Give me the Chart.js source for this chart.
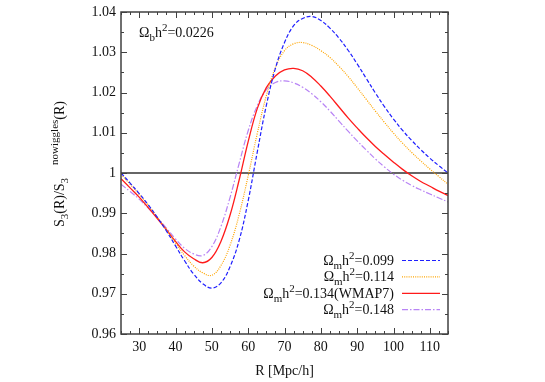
<!DOCTYPE html>
<html>
<head>
<meta charset="utf-8">
<script src="https://cdn.jsdelivr.net/npm/chart.js@4.4.1/dist/chart.umd.min.js"></script>
<style>
  body { margin: 0; background: #fff; }
  canvas { display: block; }
</style>
</head>
<body>
<canvas id="myChart" width="545" height="382"></canvas>
<script>
// R [Mpc/h]
var R = [25, 27.5, 30, 32.5, 35, 37.5, 40, 42.5, 45, 47.5, 50, 52.5, 55, 57.5, 60, 62.5, 65, 67.5, 70, 72.5,
         75, 77.5, 80, 82.5, 85, 87.5, 90, 92.5, 95, 97.5, 100, 102.5, 105, 107.5, 110, 112.5, 115];

// S3(R)/S3^nowiggles(R) for each omega_m h^2
var om099 = [1.0000, 0.9975, 0.9949, 0.9921, 0.9890, 0.9856, 0.9819, 0.9782, 0.9749, 0.9725, 0.9714, 0.9727,
             0.9767, 0.9832, 0.9931, 1.0052, 1.0168, 1.0260, 1.0324, 1.0366, 1.0384, 1.0389, 1.0379, 1.0360,
             1.0335, 1.0305, 1.0271, 1.0235, 1.0199, 1.0165, 1.0134, 1.0106, 1.0081, 1.0058, 1.0037, 1.0018, 1.0000];
var om114 = [0.9997, 0.9972, 0.9947, 0.9920, 0.9890, 0.9859, 0.9826, 0.9795, 0.9769, 0.9752, 0.9746, 0.9770,
             0.9820, 0.9896, 0.9993, 1.0098, 1.0192, 1.0262, 1.0304, 1.0321, 1.0324, 1.0317, 1.0304, 1.0287,
             1.0265, 1.0240, 1.0212, 1.0183, 1.0154, 1.0126, 1.0099, 1.0074, 1.0051, 1.0030, 1.0010, 0.9991, 0.9972];
var om134 = [0.9986, 0.9963, 0.9940, 0.9914, 0.9887, 0.9859, 0.9830, 0.9804, 0.9787, 0.9777, 0.9790, 0.9830,
             0.9895, 0.9982, 1.0078, 1.0160, 1.0212, 1.0241, 1.0256, 1.0260, 1.0254, 1.0238, 1.0216, 1.0191,
             1.0164, 1.0137, 1.0112, 1.0088, 1.0066, 1.0046, 1.0027, 1.0009, 0.9993, 0.9979, 0.9967, 0.9955, 0.9944];
var om148 = [0.9972, 0.9954, 0.9935, 0.9913, 0.9889, 0.9863, 0.9836, 0.9813, 0.9799, 0.9795, 0.9817, 0.9867,
             0.9939, 1.0023, 1.0105, 1.0167, 1.0207, 1.0225, 1.0229, 1.0224, 1.0213, 1.0197, 1.0177, 1.0154,
             1.0129, 1.0104, 1.0080, 1.0057, 1.0035, 1.0015, 0.9997, 0.9982, 0.9969, 0.9958, 0.9948, 0.9938, 0.9928];

// reference line S3 ratio = 1 across the plot
var refX = [25, 115];
var refY = [1, 1];

var omegaValues = ['0.099', '0.114', '0.134(WMAP7)', '0.148'];
var omegaB = '0.0226';

var xTicks = [30, 40, 50, 60, 70, 80, 90, 100, 110];
var yTicks = [0.96, 0.97, 0.98, 0.99, 1.00, 1.01, 1.02, 1.03, 1.04];
var yTickLabels = ['0.96', '0.97', '0.98', '0.99', '1', '1.01', '1.02', '1.03', '1.04'];

var FONT = "'Liberation Serif', 'DejaVu Serif', serif";

function pts(xs, ys) {
    return xs.map(function (x, i) { return { x: x, y: ys[i] }; });
}

// text with sub/superscripts, parts: [text, 'sub'|'sup'|null, gapBefore]
function drawRich(ctx, parts, x, y, align) {
    var total = 0;
    parts.forEach(function (p) {
        ctx.font = (p[1] ? '11px ' : '14px ') + FONT;
        p.w = ctx.measureText(p[0]).width;
        total += p.w + (p[2] || 0);
    });
    var cx = x;
    if (align === 'right') cx = x - total;
    if (align === 'center') cx = x - total / 2;
    ctx.textAlign = 'left';
    ctx.textBaseline = 'alphabetic';
    parts.forEach(function (p) {
        cx += (p[2] || 0);
        ctx.font = (p[1] ? '11px ' : '14px ') + FONT;
        var dy = p[1] === 'sub' ? 4 : (p[1] === 'sup' ? -6 : 0);
        ctx.fillText(p[0], cx, y + dy);
        cx += p.w;
    });
}

var gnuDecor = {
    id: 'gnuDecor',
    afterDraw: function (chart) {
        var ctx = chart.ctx;
        var a = chart.chartArea;
        var xs = chart.scales.x, ys = chart.scales.y;
        ctx.save();

        // frame
        ctx.strokeStyle = '#404040';
        ctx.lineWidth = 1.5;
        ctx.strokeRect(a.left, a.top, a.right - a.left, a.bottom - a.top);

        // inward ticks on all four sides
        ctx.lineWidth = 1;
        ctx.beginPath();
        for (var v = 25; v <= 115.001; v += 2.5) {
            var px = Math.round(xs.getPixelForValue(v)) + 0.5;
            var len = (Math.abs(v % 10) < 0.01) ? 6 : 3;
            ctx.moveTo(px, a.bottom); ctx.lineTo(px, a.bottom - len);
            ctx.moveTo(px, a.top); ctx.lineTo(px, a.top + len);
        }
        for (var k = 0; k <= 16; k++) {
            var yv = 0.96 + k * 0.005;
            var py = Math.round(ys.getPixelForValue(yv)) + 0.5;
            var ylen = (k % 2 === 0) ? 6 : 3;
            ctx.moveTo(a.left, py); ctx.lineTo(a.left + ylen, py);
            ctx.moveTo(a.right, py); ctx.lineTo(a.right - ylen, py);
        }
        ctx.stroke();

        ctx.fillStyle = '#111';

        // Omega_b h^2 annotation
        drawRich(ctx, [['\u03A9'], ['b', 'sub'], ['h'], ['2', 'sup'], ['=' + omegaB]], a.left + 18, a.top + 25, 'left');

        // legend
        var ds = chart.data.datasets;
        for (var i = 0; i < omegaValues.length; i++) {
            var rowY = 260 + i * 16.4;
            ctx.fillStyle = '#111';
            drawRich(ctx, [['\u03A9'], ['m', 'sub'], ['h'], ['2', 'sup'], ['=' + omegaValues[i]]], 394, rowY + 5, 'right');
            ctx.strokeStyle = ds[i].borderColor;
            ctx.lineWidth = ds[i].borderWidth;
            ctx.setLineDash(ds[i].borderDash || []);
            ctx.beginPath();
            ctx.moveTo(402, rowY + 0.5);
            ctx.lineTo(440, rowY + 0.5);
            ctx.stroke();
            ctx.setLineDash([]);
        }

        // y axis title, rotated
        ctx.fillStyle = '#111';
        ctx.translate(64, 227);
        ctx.rotate(-Math.PI / 2);
        drawRich(ctx, [['S'], ['3', 'sub'], ['(R)/S'], ['3', 'sub'], ['nowiggles', 'sup', 13], ['(R)']], 0, 0, 'left');
        ctx.restore();
    }
};

var ctx = document.getElementById('myChart').getContext('2d');
var chart = new Chart(ctx, {
    type: 'scatter',
    data: {
        datasets: [
            {
                label: '0.099',
                data: pts(R, om099),
                showLine: true,
                borderColor: '#1f1fff',
                borderWidth: 1.2,
                borderDash: [4, 2],
                pointRadius: 0,
                tension: 0.4
            },
            {
                label: '0.114',
                data: pts(R, om114),
                showLine: true,
                borderColor: '#ffa500',
                borderWidth: 1.2,
                borderDash: [1, 1.2],
                pointRadius: 0,
                tension: 0.4
            },
            {
                label: '0.134(WMAP7)',
                data: pts(R, om134),
                showLine: true,
                borderColor: '#ff1a1a',
                borderWidth: 1.3,
                pointRadius: 0,
                tension: 0.4
            },
            {
                label: '0.148',
                data: pts(R, om148),
                showLine: true,
                borderColor: '#b884f5',
                borderWidth: 1.2,
                borderDash: [6, 2, 1.5, 2],
                pointRadius: 0,
                tension: 0.4
            },
            {
                label: 'ref',
                data: pts(refX, refY),
                showLine: true,
                borderColor: '#333',
                borderWidth: 1.3,
                pointRadius: 0
            }
        ]
    },
    options: {
        responsive: false,
        animation: false,
        layout: { padding: { left: 0, right: 97, top: 7, bottom: 0 } },
        plugins: {
            legend: { display: false },
            tooltip: { enabled: false }
        },
        scales: {
            x: {
                type: 'linear',
                min: 25,
                max: 115,
                grid: { display: false, drawTicks: false },
                border: { display: false },
                afterBuildTicks: function (s) { s.ticks = xTicks.map(function (v) { return { value: v }; }); },
                afterFit: function (s) { s.height = 48; },
                ticks: {
                    padding: 6,
                    color: '#111',
                    maxRotation: 0,
                    font: { family: FONT, size: 14, lineHeight: 1 }
                },
                title: {
                    display: true,
                    text: 'R [Mpc/h]',
                    color: '#111',
                    padding: { top: 0, bottom: 2 },
                    font: { family: FONT, size: 14 }
                }
            },
            y: {
                min: 0.96,
                max: 1.04,
                grid: { display: false, drawTicks: false },
                border: { display: false },
                afterBuildTicks: function (s) { s.ticks = yTicks.map(function (v) { return { value: v }; }); },
                afterFit: function (s) { s.width = 121; },
                ticks: {
                    padding: 5,
                    color: '#111',
                    font: { family: FONT, size: 14, lineHeight: 1 },
                    callback: function (v, i) { return yTickLabels[i]; }
                }
            }
        }
    },
    plugins: [gnuDecor]
});
</script>
</body>
</html>
